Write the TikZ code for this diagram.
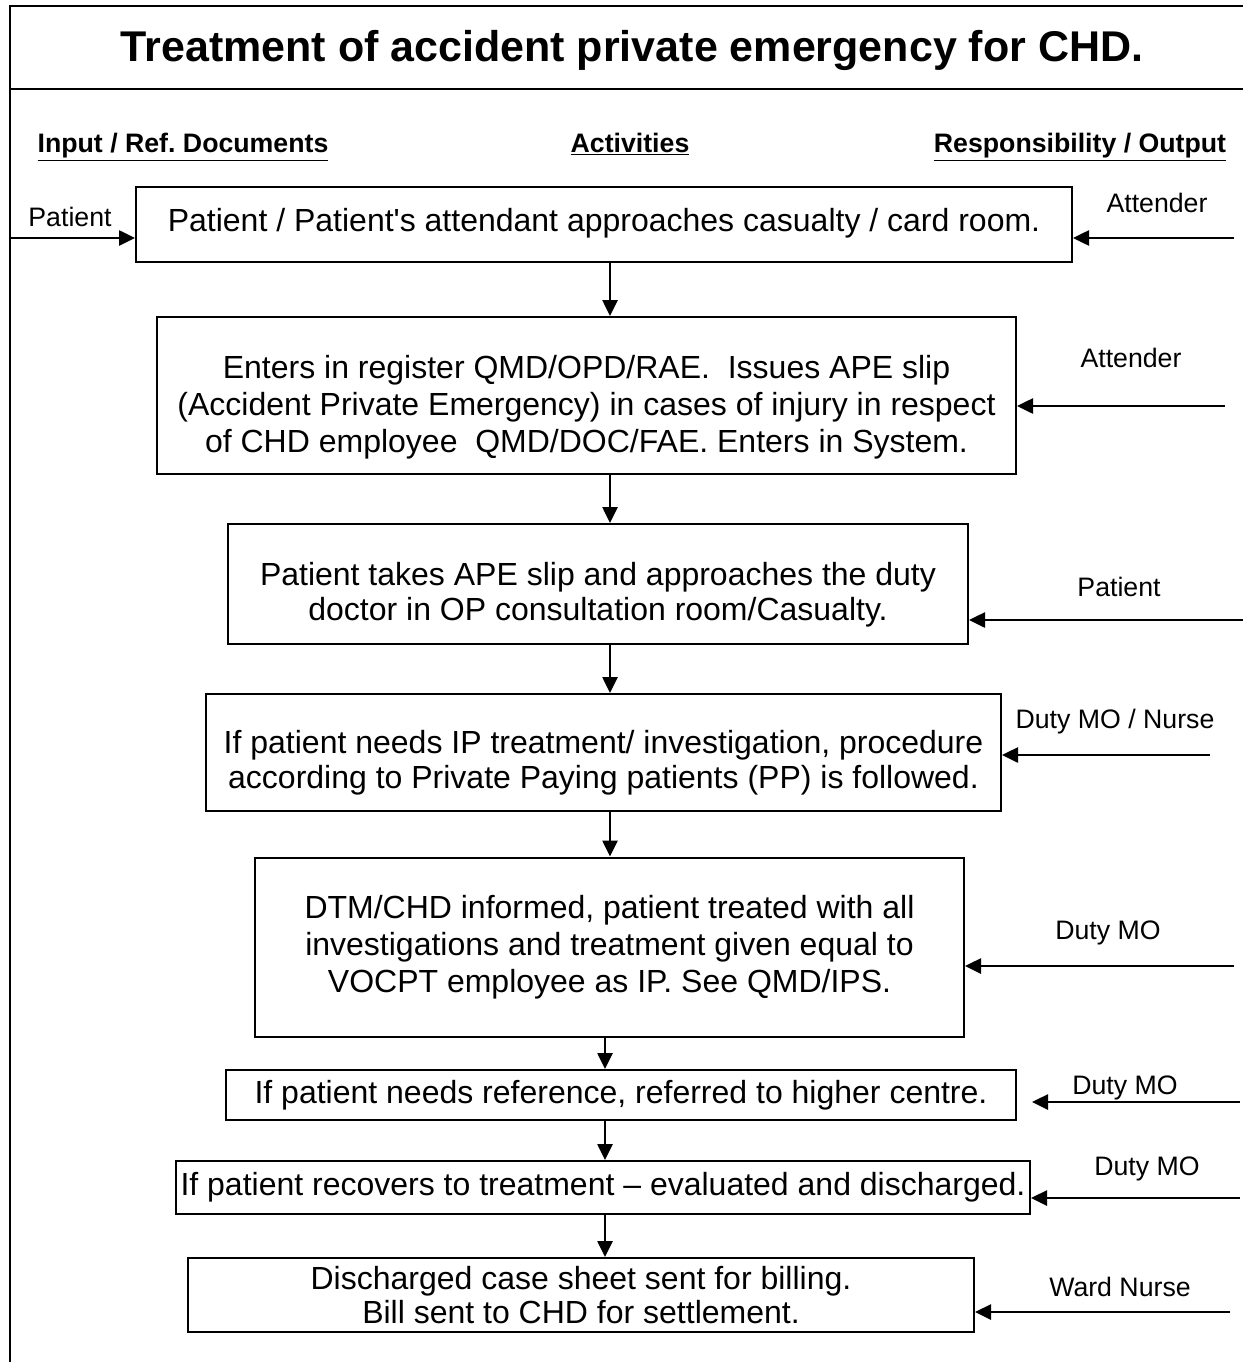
\documentclass[tikz,border=0pt]{standalone}
\usepackage{fontspec}
\setmainfont{Liberation Sans}
\usetikzlibrary{arrows.meta}
\newcommand\bodysize{\fontsize{32}{37}\selectfont}
\newcommand\sidesize{\fontsize{26.7}{31}\selectfont}
\frenchspacing

\begin{document}
\begin{tikzpicture}[x=1pt,y=-1pt,
  stepbox/.style={draw,line width=2pt,inner sep=2pt},
  steptext/.style={inner sep=0pt,align=center,font=\bodysize},
  flow/.style={line width=2.6pt,-{Triangle[length=16pt,width=15pt]}},
  side/.style={font=\sidesize},
  head/.style={font=\sidesize\bfseries,anchor=base}]
\useasboundingbox (0,0) rectangle (1243,1362);

% frame and title
\draw[line width=2.6pt] (1243,6) -- (10,6) -- (10,1362);
\draw[line width=2.6pt] (10,89) -- (1243,89);
\node[font=\fontsize{43}{50}\selectfont\bfseries] (title) at (632,50) {Treatment of accident private emergency for CHD.};

% column heads
\node[head] (hin) at (183,153) {\underline{Input / Ref. Documents}};
\node[head] (hact) at (630,153) {\underline{Activities}};
\node[head] (hresp) at (1080,153) {\underline{Responsibility / Output}};

% activity boxes
\node[stepbox,minimum width=936pt,minimum height=75pt] (b1) at (604,224.5) {};
\node[stepbox,minimum width=859pt,minimum height=157pt] (b2) at (586.5,395.5) {};
\node[stepbox,minimum width=740pt,minimum height=120pt] (b3) at (598,584) {};
\node[stepbox,minimum width=795pt,minimum height=117pt] (b4) at (603.5,752.5) {};
\node[stepbox,minimum width=709pt,minimum height=179pt] (b5) at (609.5,947) {};
\node[stepbox,minimum width=790pt,minimum height=50pt] (b6) at (621,1095) {};
\node[stepbox,minimum width=854pt,minimum height=53pt] (b7) at (603,1187.5) {};
\node[stepbox,minimum width=786pt,minimum height=74pt] (b8) at (581,1295) {};

% box texts
\node[steptext] (t1) at ([yshift=1pt]b1.center)
  {Patient / Patient{\textquotesingle}s attendant approaches casualty / card room.};
\node[steptext] (t2) at ([yshift=-12pt]b2.center)
  {Enters in register QMD/OPD/RAE.\ \ Issues APE slip\\
   (Accident Private Emergency) in cases of injury in respect\\
   of CHD employee\ \ QMD/DOC/FAE. Enters in System.};
\node[steptext,font=\fontsize{32}{35}\selectfont] (t3) at ([yshift=-11pt]b3.center)
  {Patient takes APE slip and approaches the duty\\
   doctor in OP consultation room/Casualty.};
\node[steptext,font=\fontsize{32}{35}\selectfont] (t4) at ([yshift=-10pt]b4.center)
  {If patient needs IP treatment/ investigation, procedure\\
   according to Private Paying patients (PP) is followed.};
\node[steptext] (t5) at (b5.center)
  {DTM/CHD informed, patient treated with all\\
   investigations and treatment given equal to\\
   VOCPT employee as IP. See QMD/IPS.};
\node[steptext] (t6) at (b6.center)
  {If patient needs reference, referred to higher centre.};
\node[steptext] (t7) at (b7.center)
  {If patient recovers to treatment -- evaluated and discharged.};
\node[steptext,font=\fontsize{32}{34}\selectfont] (t8) at (b8.center)
  {Discharged case sheet sent for billing.\\
   Bill sent to CHD for settlement.};

% flow down the middle
\coordinate (axa) at (610,0);
\coordinate (axb) at (605,0);
\draw[flow] (b1.south -| axa) -- (b2.north -| axa);
\draw[flow] (b2.south -| axa) -- (b3.north -| axa);
\draw[flow] (b3.south -| axa) -- (b4.north -| axa);
\draw[flow] (b4.south -| axa) -- (b5.north -| axa);
\draw[flow] (b5.south -| axb) -- (b6.north -| axb);
\draw[flow] (b6.south -| axb) -- (b7.north -| axb);
\draw[flow] (b7.south -| axb) -- (b8.north -| axb);

% input side
\coordinate (l1) at (10,238);
\draw[flow] (l1) -- (l1 -| b1.west);
\node[side] (in1) at (70,217) {Patient};

% responsibility side
\coordinate (r1) at (1234,238);
\coordinate (r2) at (1225,406);
\coordinate (r3) at (1243,620);
\coordinate (r4) at (1210,755);
\coordinate (r5) at (1234,966);
\coordinate (r6) at (1240,1102);
\coordinate (r7) at (1240,1198);
\coordinate (r8) at (1230,1312);
\draw[flow] (r1) -- (r1 -| b1.east);
\draw[flow] (r2) -- (r2 -| b2.east);
\draw[flow] (r3) -- (r3 -| b3.east);
\draw[flow] (r4) -- (r4 -| b4.east);
\draw[flow] (r5) -- (r5 -| b5.east);
\draw[flow] (r6) -- ([xshift=15pt]r6 -| b6.east);
\draw[flow] (r7) -- (r7 -| b7.east);
\draw[flow] (r8) -- (r8 -| b8.east);
\node[side] (out1) at (1157,203) {Attender};
\node[side] (out2) at (1131,358) {Attender};
\node[side] (out3) at (1119,587) {Patient};
\node[side] (out4) at (1115,722) {Duty MO / Nurse};
\node[side] (out5) at (1108,933) {Duty MO};
\node[side] (out6) at (1125,1088) {Duty MO};
\node[side] (out7) at (1147,1169) {Duty MO};
\node[side] (out8) at (1120,1287) {Ward Nurse};
\end{tikzpicture}
\end{document}
